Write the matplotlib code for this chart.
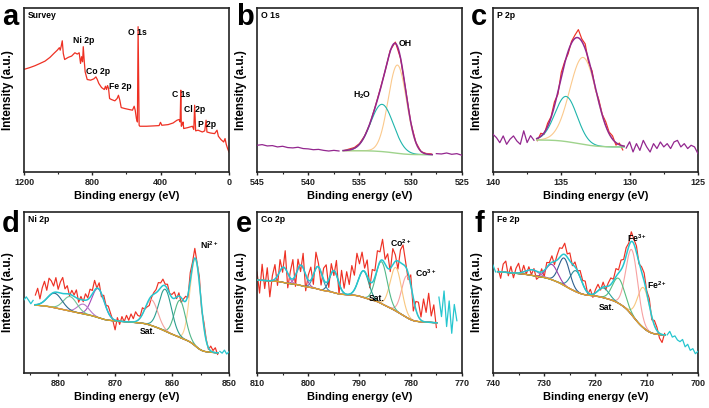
import numpy as np
import math
import matplotlib
matplotlib.use('Agg')
import matplotlib.pyplot as plt

plt.rcParams['font.family'] = ['Liberation Sans', 'DejaVu Sans']
plt.rcParams['mathtext.fontset'] = 'custom'
plt.rcParams['mathtext.rm'] = 'Liberation Sans:bold'
plt.rcParams['mathtext.bf'] = 'Liberation Sans:bold'
plt.rcParams['mathtext.default'] = 'bf'

RAW = '#ee3124'

# ---- a: survey (binding energy, intensity in % of axis height)
survey_be = [1196, 1165, 1136, 1106, 1077, 1048, 1025, 1005, 993, 988, 982, 976, 970, 962, 941,
             921, 902, 888, 877, 869, 863, 857, 853, 847, 842, 830, 810, 791, 779, 771, 762, 746,
             730, 723, 717, 711, 705, 699, 688, 668, 655, 647, 639, 631, 610, 584, 565, 555, 549,
             542, 536, 532, 526, 522, 483, 444, 409, 401, 393, 356, 327, 304, 292, 286, 282, 279,
             273, 269, 265, 240, 214, 206, 201, 195, 181, 156, 142, 134, 129, 109, 84, 70, 62, 47,
             31, 23, 16, 8, 0]
survey_int = [62.7, 63.7, 64.8, 66.2, 67.6, 69.9, 72.3, 74.3, 75.8, 74.3, 76.8, 80.0, 72.3, 68.6,
              69.9, 70.7, 72.7, 71.9, 72.7, 66.2, 70.3, 67.2, 76.4, 67.2, 61.1, 56.4, 56.0, 56.8,
              58.0, 56.4, 54.0, 51.5, 50.3, 52.3, 50.3, 52.7, 50.9, 44.8, 44.2, 43.4, 44.8, 46.8,
              43.8, 39.3, 38.7, 38.1, 37.7, 40.1, 37.7, 32.6, 30.5, 88.6, 28.5, 27.9, 27.9, 28.1,
              28.3, 30.3, 28.5, 28.9, 29.9, 31.6, 32.0, 30.5, 49.9, 27.9, 29.1, 30.5, 26.5, 27.1,
              27.9, 25.9, 40.7, 25.1, 25.5, 24.4, 25.1, 31.6, 24.4, 23.8, 23.4, 25.5, 21.8, 19.8,
              18.3, 20.4, 16.9, 14.3, 12.2]
survey_labels = ['Ni 2p', 'Co 2p', 'Fe 2p', 'O 1s', 'C 1s', 'Cl 2p', 'P 2p']
survey_label_be = [851, 767, 635, 534, 282, 199, 130]
survey_label_y = [80.0, 61.5, 51.9, 85.1, 47.5, 38.3, 28.9]

# ---- fitted spectra: peaks are (centre eV, height, fwhm), background is Shirley type
# b: O 1s
o1s_peaks = [(531.3, 53.8, 2.1), (532.8, 28.8, 2.6)]
o1s_colors = ['#fbc98c', '#1fb5ac']
o1s_bg = (10.6, 0.0, 2.4)          # low-BE level, slope, step
o1s_fit = (536.6, 527.9)
o1s_range = (545, 525)
o1s_resid = [3.3, 3.7, 2.9, 3.1, 2.3, 2.7, 1.9, 1.7, 2.1, 1.3, 1.1, 0.6, 0.8, 0.2, -0.2, 0.2, -0.2, 0.0,
             0.6, 0.5, 0.4, 0.2, -0.3, 0.3, 0.5, -0.2, 0.6, 0.8, -0.3, 0.2, -0.2, 0.1, -0.2, 0.3, 0.4,
             0.6, 0.4, 1.0, 0.2, 0.6, -0.4]

# c: P 2p
p2p_peaks = [(133.4, 53.0, 2.3), (134.65, 27.5, 1.9)]
p2p_colors = ['#fbc98c', '#1fb5ac']
p2p_bg = (15.3, 0.0, 4.2)
p2p_fit = (136.8, 130.4)
p2p_range = (140, 125)
p2p_resid = [3.5, 1.5, -1.6, 2.5, -2.6, 0.5, 2.5, -0.6, -2.6, 5.6, -1.6, 2.5, -0.6,
             -1.5, 1.8, -1.0, 2.0, 0.5, 2.5, -1.5, 3.0, 1.0, -1.5, 1.0, 2.0, 5.0, 1.5, 3.0, -2.0,
             1.5, -1.0, 1.5, 0.5, 2.5, 1.0, 2.0, -1.5, 1.0, -2.5,
             -1.0, 3.0, -3.1, 2.0, -2.1, 4.0, 0.0, -3.1, 2.0, -1.0, 3.0, 0.0, 2.0, -1.0, 3.0, 4.0,
             0.0, 2.0, -1.0, 1.0, 0.0, -4.1]

# d: Ni 2p
ni_peaks = [(855.9, 54, 2.2), (858.6, 23, 2.3), (861.2, 26, 2.6), (863.6, 16, 2.6),
            (873.0, 18, 2.6), (875.6, 6, 2.4), (877.9, 9, 2.8), (880.6, 9, 3.0)]
ni_colors = ['#fcd08f', '#52b788', '#2a9d8f', '#f4a3a0', '#a349b8', '#b678c9', '#72c29a', '#2d6a8f']
ni_bg = (12.5, 0.27, 21.0)
ni_fit = (884.1, 851.9)
ni_range = (886, 850)
ni_resid = [2.7, 4.7, 2.7, 0.6, 2.7,
            6, 10, 3, 9, 12, 5, 11, 8, 4, 9,
            2, 7, 10, 3, 5, -1, 3, 1, 5, -2,
            2, -1, 4, 1, 5, 2, 6, 0, 4, -2,
            3, 1, 4, 2, -1, -6, 2, -2, 3, 0,
            4, 1, 5, 2, 6, 3, 1, 4, 0, -2,
            -4, -1, 1, 2, 5, 3, 4, 1, 3, 0,
            2, 4, -1, 2, -3, 1, 3, -2, 5, 2,
            6, 1, 4, -2, 3, 1, -1, 3, 1, 3,
            -1,
            1.0, 0.0, 2.0, -0.3, 1.2]

# e: Co 2p
co_peaks = [(780.7, 26, 2.5), (782.9, 27, 2.6), (785.7, 26, 2.6), (789.2, 16.5, 2.4),
            (795.0, 13.6, 2.0), (798.1, 14, 2.0), (801.4, 12.7, 2.0), (804.8, 9.5, 2.0)]
co_colors = ['#f7a1a1', '#f8c77e', '#53b98a', '#2a9d8f', '#2d6a8f', '#3b8bb0', '#9b59b6', '#c060c0']
co_bg = (31.2, 0.186, 20.0)
co_fit = (810.1, 774.9)
co_range = (810, 771)
co_resid = [5, -8, 10, -5, 8, -10, 3, 9, -6, 7,
            -3, 11, -9, 4, 12, -7, 6, -4, 9, -10,
            3, 8, -6, 10, 2, -8, 7, 11, -5, 6,
            -3, 9, -7, 12, 3, 14, 6, 17, 9, 19,
            8, 12, 2, 10, -4, 8, 4, 11, 6, 13,
            3, 9, -2, 10, 4, -5, 8, 12, 3, -4,
            6, -8, 5, 9, 2, 14, 6, 18, 4, 11,
            -3,
            16, 4, 20, -2, 14, -6, 12, 2]

# f: Fe 2p
fe_peaks = [(710.6, 25, 2.8), (712.9, 40.5, 2.7), (715.5, 15.5, 2.8), (718.4, 6, 2.5),
            (723.8, 13, 2.6), (726.1, 17, 2.5), (728.5, 9.5, 2.6), (732.3, 3.5, 3.0)]
fe_colors = ['#f8c77e', '#f7a1a1', '#58bd7f', '#2fa59a', '#2a8f9a', '#2d5f8e', '#9b3fa8', '#b070b8']
fe_bg = (23.5, 0.29, 30.0)
fe_fit = (739.1, 706.4)
fe_range = (740, 700)
fe_resid = [3.8, -0.3,
            2, -4, 5, 7, -2, 4, -3, 3, 6, -1,
            4, -2, 2, -3, 1, -5, -3, 2, -4, 3,
            1, 4, -2, 3, 6, 4, 7, 2, 5, -1,
            3, 0, 4, 2, 5, -1, 3, -2, 2, 4,
            -1, 3, -2, 2, 4, 1, 5, 2, 6, 3,
            5, 2, 6, 3, 4, -1, 3, 5, 1, 4,
            -2, 3, 2, -3, -5, 1,
            0.3, 2.6, -0.8, 0.1, -2.3, -3.2, -1.7, -6.1, -4.4, -8.0, -6.8, -9.8, -8.2]

erf = np.vectorize(math.erf)


def gauss(x, c, h, w):
    return h*np.exp(-4*np.log(2)*(x - c)**2/w**2)


def shirley(x, peaks, bg, x0):
    lo, k, step = bg
    area = np.zeros_like(x)
    total = 0
    for c, h, w in peaks:
        s = w/(2*np.sqrt(2*np.log(2)))
        area = area + h*w*0.5*(1 + erf((x - c)/(s*np.sqrt(2))))
        total += h*w
    return lo + k*(x - x0) + step*area/total


def envelope(x, peaks, bg, x0):
    y = shirley(x, peaks, bg, x0)
    for c, h, w in peaks:
        y = y + gauss(x, c, h, w)
    return y


def style(ax, xlim, major, minor, title):
    ax.set_xlim(*xlim)
    ax.set_ylim(0, 100)
    ax.set_yticks([])
    ax.set_xticks(major)
    ax.set_xticks(minor, minor=True)
    ax.set_xticklabels([str(m) for m in major], fontweight='bold')
    ax.tick_params(axis='x', which='major', direction='out', length=2.5, width=1,
                   labelsize=6.5, pad=1.5, colors='#222222')
    ax.tick_params(axis='x', which='minor', direction='out', length=1.5, width=0.8, colors='#222222')
    for s in ax.spines.values():
        s.set_linewidth(1.2)
        s.set_color('#222222')
    ax.set_xlabel('Binding energy (eV)', fontsize=8, fontweight='bold', labelpad=3)
    ax.set_ylabel('Intensity (a.u.)', fontsize=8.5, fontweight='bold', labelpad=7)
    ax.text(0.02, 0.955, title, transform=ax.transAxes, fontsize=6.2, fontweight='bold', va='center')


def fitted(ax, peaks, colors, bg, fit, xrange_, resid, env_color, bg_color):
    hi, lo = fit
    x0 = lo
    xf = np.linspace(hi, lo, 500)
    xr = np.linspace(xrange_[0], xrange_[1], len(resid))
    raw = envelope(xr, peaks, bg, x0) + np.array(resid)
    inside = (xr <= hi) & (xr >= lo)
    ax.plot(xr[inside], raw[inside], color=RAW, lw=0.85, zorder=1)
    base = shirley(xf, peaks, bg, x0)
    for (c, h, w), col in zip(peaks, colors):
        ax.plot(xf, base + gauss(xf, c, h, w), color=col, lw=0.8, zorder=2)
    ax.plot(xf, base, color=bg_color, lw=1.0, zorder=3)
    ax.plot(xf, envelope(xf, peaks, bg, x0), color=env_color, lw=1.1, zorder=4)
    left = xr > hi
    right = xr < lo
    if left.any():
        ax.plot(xr[left], raw[left], color=env_color, lw=0.9, zorder=4)
    if right.any():
        ax.plot(xr[right], raw[right], color=env_color, lw=0.9, zorder=4)


fig = plt.figure(figsize=(7.09, 4.08), dpi=100)
lefts = [0.03385, 0.3625, 0.6953]
w = 0.2891
axa = fig.add_axes([lefts[0], 0.5784, w, 0.402])
axb = fig.add_axes([lefts[1], 0.5784, w, 0.402])
axc = fig.add_axes([lefts[2], 0.5784, w, 0.402])
axd = fig.add_axes([lefts[0], 0.0858, w, 0.3946])
axe = fig.add_axes([lefts[1], 0.0858, w, 0.3946])
axf = fig.add_axes([lefts[2], 0.0858, w, 0.3946])

# a
axa.plot(survey_be, survey_int, color=RAW, lw=0.9)
for t, xb, yb in zip(survey_labels, survey_label_be, survey_label_y):
    axa.text(xb, yb, t, fontsize=6.2, fontweight='bold', ha='center', va='center')
style(axa, (1200, 0), [1200, 800, 400, 0], [1000, 600, 200], 'Survey')

# b
fitted(axb, o1s_peaks, o1s_colors, o1s_bg, o1s_fit, o1s_range, o1s_resid, '#93278f', '#9fd38c')
axb.text(531.2, 78.4, 'OH', fontsize=6.2, fontweight='bold', va='center')
axb.text(534.75, 47, 'H$_2$O', fontsize=6.2, fontweight='bold', va='center', ha='center')
style(axb, (545, 525), [545, 540, 535, 530, 525], [542.5, 537.5, 532.5, 527.5], 'O 1s')

# c
fitted(axc, p2p_peaks, p2p_colors, p2p_bg, p2p_fit, p2p_range, p2p_resid, '#93278f', '#9fd38c')
style(axc, (140, 125), [140, 135, 130, 125], [137.5, 132.5, 127.5], 'P 2p')

# d
fitted(axd, ni_peaks, ni_colors, ni_bg, ni_fit, ni_range, ni_resid, '#26c6cf', '#e0a526')
axd.text(855.1, 79.4, 'Ni$^{2+}$', fontsize=6.2, fontweight='bold', va='center')
axd.text(865.6, 25.8, 'Sat.', fontsize=6.2, fontweight='bold', va='center')
style(axd, (886, 850), [880, 870, 860, 850], [885, 875, 865, 855], 'Ni 2p')

# e
fitted(axe, co_peaks, co_colors, co_bg, co_fit, co_range, co_resid, '#26c6cf', '#e0a526')
axe.text(784.0, 80.8, 'Co$^{2+}$', fontsize=6.2, fontweight='bold', va='center')
axe.text(779.1, 62.3, 'Co$^{3+}$', fontsize=6.2, fontweight='bold', va='center')
axe.text(788.2, 46.4, 'Sat.', fontsize=6.2, fontweight='bold', va='center')
style(axe, (810, 770), [810, 800, 790, 780, 770], [805, 795, 785, 775], 'Co 2p')

# f
fitted(axf, fe_peaks, fe_colors, fe_bg, fe_fit, fe_range, fe_resid, '#26c6cf', '#e0a526')
axf.text(713.8, 83.5, 'Fe$^{3+}$', fontsize=6.2, fontweight='bold', va='center')
axf.text(710.0, 54.6, 'Fe$^{2+}$', fontsize=6.2, fontweight='bold', va='center')
axf.text(719.4, 40.8, 'Sat.', fontsize=6.2, fontweight='bold', va='center')
style(axf, (740, 700), [740, 730, 720, 710, 700], [735, 725, 715, 705], 'Fe 2p')

# panel letters
for letter, xp, yp in [('a', 2, 25), ('b', 236, 25), ('c', 471, 25),
                       ('d', 2, 232), ('e', 236, 232), ('f', 475, 232)]:
    fig.text(xp/709, 1 - yp/408, letter, fontsize=21, fontweight='bold', va='baseline')

fig.savefig('out.png', dpi=100)
